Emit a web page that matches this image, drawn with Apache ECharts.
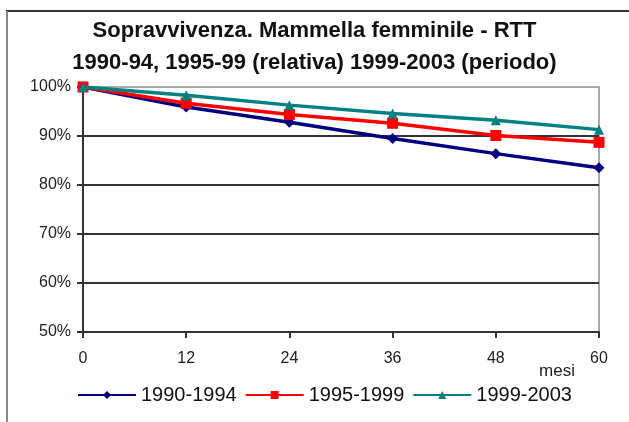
<!DOCTYPE html>
<html lang="it">
<head>
  <meta charset="UTF-8">
  <title>Sopravvivenza - Mammella femminile</title>
  <script src="https://cdn.jsdelivr.net/npm/echarts@6/dist/echarts.min.js"></script>
  <style>
    html, body { margin: 0; padding: 0; background: #fff; }
    #chart { width: 629px; height: 422px; }
  </style>
</head>
<body>
<div id="chart"></div>
<script>
  // mesi di follow-up
  const mesi = [0, 12, 24, 36, 48, 60];
  const seriesNames = ['1990-1994', '1995-1999', '1999-2003'];
  // sopravvivenza (%)
  const surv9094 = [100, 95.9, 92.8, 89.5, 86.4, 83.5];
  const surv9599 = [100, 96.7, 94.4, 92.6, 90.1, 88.7];
  const surv9903 = [100, 98.3, 96.3, 94.6, 93.2, 91.3];

  const pairs = vals => mesi.map((m, i) => [m, vals[i]]);

  const chart = echarts.init(document.getElementById('chart'));
  const font = 'Liberation Sans, Arial, sans-serif';

  chart.setOption({
    animation: false,
    title: {
      text: 'Sopravvivenza. Mammella femminile - RTT\n1990-94, 1995-99 (relativa) 1999-2003 (periodo)',
      left: 'center',
      top: 10,
      textStyle: { fontFamily: font, fontSize: 22, fontWeight: 'bold', color: '#111', lineHeight: 32 }
    },
    graphic: [
      { type: 'line', shape: { x1: 6, y1: 11, x2: 629, y2: 11 }, style: { stroke: '#333', lineWidth: 2 } },
      { type: 'line', shape: { x1: 7, y1: 11, x2: 7, y2: 422 }, style: { stroke: '#888', lineWidth: 2 } }
    ],
    grid: { left: 83, right: 30, top: 87, bottom: 90, show: true, borderColor: '#aaa', borderWidth: 2 },
    legend: {
      bottom: 12,
      left: 72,
      itemWidth: 58,
      itemHeight: 10,
      itemGap: 8,
      textStyle: { fontFamily: font, fontSize: 20, color: '#111' },
      data: seriesNames
    },
    xAxis: {
      type: 'value',
      min: 0, max: 60, interval: 12,
      name: 'mesi',
      nameLocation: 'end',
      nameGap: 0,
      nameTextStyle: { fontFamily: font, fontSize: 17, color: '#222', align: 'right', verticalAlign: 'top', padding: [31, 24, 0, 0] },
      axisLine: { lineStyle: { color: '#333', width: 2 } },
      axisTick: { show: true, length: 6, lineStyle: { color: '#333', width: 2 } },
      axisLabel: { fontFamily: font, fontSize: 16, color: '#222', margin: 19 },
      splitLine: { show: false }
    },
    yAxis: {
      type: 'value',
      min: 50, max: 100, interval: 10,
      axisLine: { show: true, lineStyle: { color: '#333', width: 2 } },
      axisTick: { show: true, length: 6, lineStyle: { color: '#333', width: 2 } },
      axisLabel: { fontFamily: font, fontSize: 16, color: '#222', margin: 12, formatter: '{value}%' },
      splitLine: { show: true, lineStyle: { color: ['#333', '#333', '#333', '#333', '#333', '#aaa'], width: 2 } }
    },
    series: [
      {
        name: seriesNames[0], type: 'line', data: pairs(surv9094),
        symbol: 'diamond', symbolSize: 11,
        lineStyle: { color: '#000080', width: 3.5 }, itemStyle: { color: '#000080' }, z: 3
      },
      {
        name: seriesNames[1], type: 'line', data: pairs(surv9599),
        symbol: 'rect', symbolSize: 11,
        lineStyle: { color: '#ff0000', width: 3.5 }, itemStyle: { color: '#ff0000' }, z: 4
      },
      {
        name: seriesNames[2], type: 'line', data: pairs(surv9903),
        symbol: 'triangle', symbolSize: 10,
        lineStyle: { color: '#008080', width: 3.5 }, itemStyle: { color: '#008080' }, z: 5
      }
    ]
  });
</script>
</body>
</html>
